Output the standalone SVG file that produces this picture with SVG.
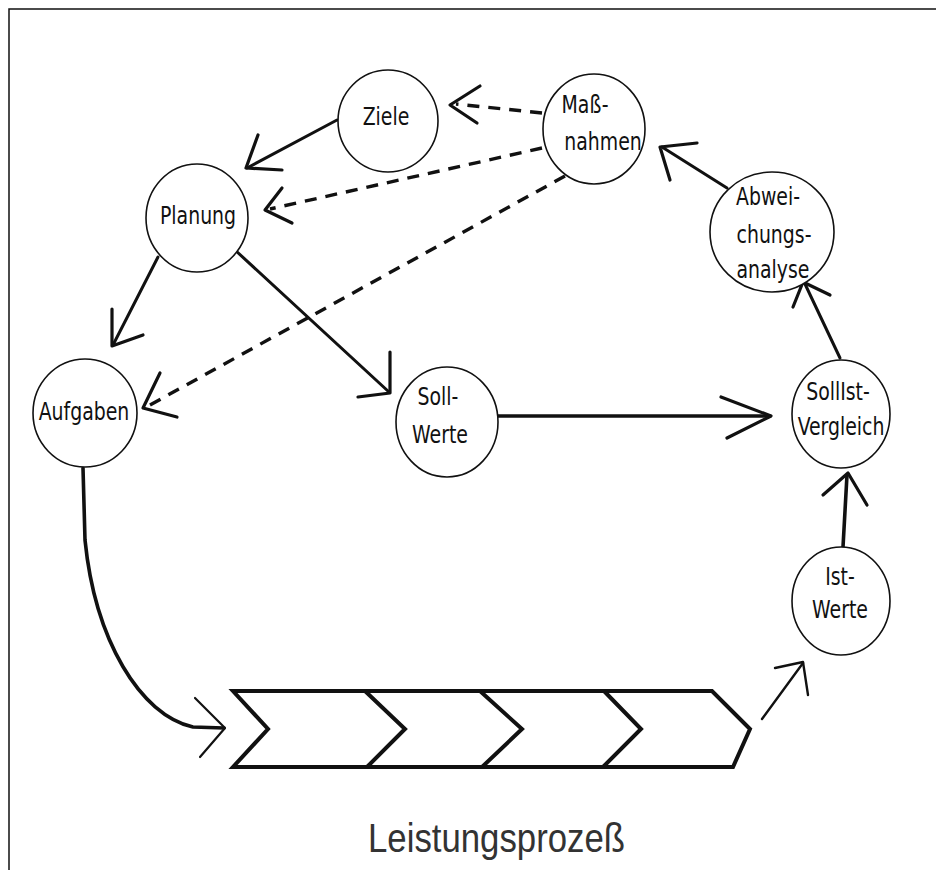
<svg xmlns="http://www.w3.org/2000/svg" width="936" height="870" viewBox="0 0 936 870">
<style>
.node ellipse{fill:#fff;stroke:#111;stroke-width:1.6}
.lbl{font-family:"DejaVu Sans Condensed","DejaVu Sans","Liberation Sans",sans-serif;font-stretch:condensed;font-size:21px;fill:#111;text-anchor:middle}
.c{fill:none;stroke:#111;stroke-width:3;stroke-linecap:round;stroke-linejoin:round}
.d{fill:none;stroke:#111;stroke-width:3.4;stroke-dasharray:12 9}
.h{fill:none;stroke:#111;stroke-width:3.2;stroke-linecap:round;stroke-linejoin:round}
.ch{fill:none;stroke:#111;stroke-width:4;stroke-linejoin:miter}
</style>
<rect width="936" height="870" fill="#fff"/>
<path d="M9,870 V9 H936" fill="none" stroke="#111" stroke-width="1.5"/>
<g id="connectors">
  <!-- Ziele -> Planung -->
  <path class="c" d="M337,120 L247,168"/>
  <path class="h" d="M258,135 L246,168 L282,170"/>
  <!-- Massnahmen -> Ziele (dashed) -->
  <path class="d" d="M542,113 L456,104"/>
  <path class="h" d="M480,86 L450,105 L477,123"/>
  <!-- Massnahmen -> Planung (dashed) -->
  <path class="d" d="M542,148 L270,209"/>
  <path class="h" d="M282,188 L265,210 L292,223"/>
  <!-- Massnahmen -> Aufgaben (dashed) -->
  <path class="d" d="M565,176 L150,405"/>
  <path class="h" d="M160,373 L143,408 L177,417"/>
  <!-- Planung -> Aufgaben -->
  <path class="c" d="M158,257 L113,345"/>
  <path class="h" d="M112,309 L112,346 L143,335"/>
  <!-- Planung -> Soll-Werte -->
  <path class="c" d="M235,250 L389,392"/>
  <path class="h" d="M390,352 L390,393 L358,397"/>
  <!-- Soll-Werte -> SollIst-Vergleich -->
  <path class="c" d="M498,416 L770,416" style="stroke-width:3.6"/>
  <path class="h" d="M721,397 L771,416 L727,438"/>
  <!-- SollIst-Vergleich -> Abweichungsanalyse -->
  <path class="c" d="M840,358 L805,284"/>
  <path class="h" d="M830,295 L803,282 L793,307"/>
  <!-- Abweichungsanalyse -> Massnahmen -->
  <path class="c" d="M727,188 L662,147"/>
  <path class="h" d="M697,143 L660,147 L670,180"/>
  <!-- Ist-Werte -> SollIst-Vergleich -->
  <path class="c" d="M843,547 L847,475" style="stroke-width:3.6"/>
  <path class="h" d="M823,495 L848,473 L867,505"/>
  <!-- Aufgaben -> Leistungsprozess -->
  <path class="c" d="M83,468 L85,540 C95,640 140,715 193,727 L224,728" style="stroke-width:3.6"/>
  <path class="c" d="M195,698 L225,728 L200,757" style="stroke-width:2.2"/>
  <!-- Leistungsprozess -> Ist-Werte -->
  <path class="c" d="M762,719 L803,663" style="stroke-width:2.4"/>
  <path class="c" d="M775,668 L803,662 L808,695" style="stroke-width:2.4"/>
</g>
<g id="leistungsprozess">
  <path class="ch" d="M233,691 L712,691 L750,729 L733,767 L233,767 L268,729 Z"/>
  <path class="ch" d="M365,691 L405,729 L367,767"/>
  <path class="ch" d="M480,691 L522,729 L482,767"/>
  <path class="ch" d="M604,691 L641,729 L603,767"/>
  <text x="368" y="852" textLength="257" lengthAdjust="spacingAndGlyphs" style="font-family:'Liberation Sans',Arial,sans-serif;font-size:40px;fill:#333">Leistungsprozeß</text>
</g>
<g id="ziele" class="node"><ellipse cx="388" cy="121" rx="50" ry="51"/><text class="lbl" transform="translate(386,125) scale(1,1.15)">Ziele</text></g>
<g id="planung" class="node"><ellipse cx="197" cy="218" rx="51" ry="54"/><text class="lbl" transform="translate(198,224) scale(1,1.15)">Planung</text></g>
<g id="massnahmen" class="node"><ellipse cx="594" cy="129" rx="51" ry="55"/><text class="lbl" transform="translate(585,113) scale(1,1.15)">Maß-</text><text class="lbl" transform="translate(603,150) scale(1,1.15)">nahmen</text></g>
<g id="abweichungsanalyse" class="node"><ellipse cx="772" cy="232" rx="62" ry="60"/><text class="lbl" transform="translate(768,205) scale(1,1.15)">Abwei-</text><text class="lbl" transform="translate(774,243) scale(1,1.15)">chungs-</text><text class="lbl" transform="translate(773,278) scale(1,1.15)">analyse</text></g>
<g id="aufgaben" class="node"><ellipse cx="85" cy="413" rx="52" ry="54"/><text class="lbl" transform="translate(84,420) scale(1,1.15)">Aufgaben</text></g>
<g id="soll-werte" class="node"><ellipse cx="447" cy="422" rx="51" ry="55"/><text class="lbl" transform="translate(438,405) scale(1,1.15)">Soll-</text><text class="lbl" transform="translate(440,443) scale(1,1.15)">Werte</text></g>
<g id="sollist-vergleich" class="node"><ellipse cx="841" cy="414" rx="49" ry="54"/><text class="lbl" transform="translate(838,400) scale(1,1.15)">SollIst-</text><text class="lbl" transform="translate(841,435) scale(1,1.15)">Vergleich</text></g>
<g id="ist-werte" class="node"><ellipse cx="841" cy="601" rx="49" ry="54"/><text class="lbl" transform="translate(840,585) scale(1,1.15)">Ist-</text><text class="lbl" transform="translate(840,618) scale(1,1.15)">Werte</text></g>
</svg>
